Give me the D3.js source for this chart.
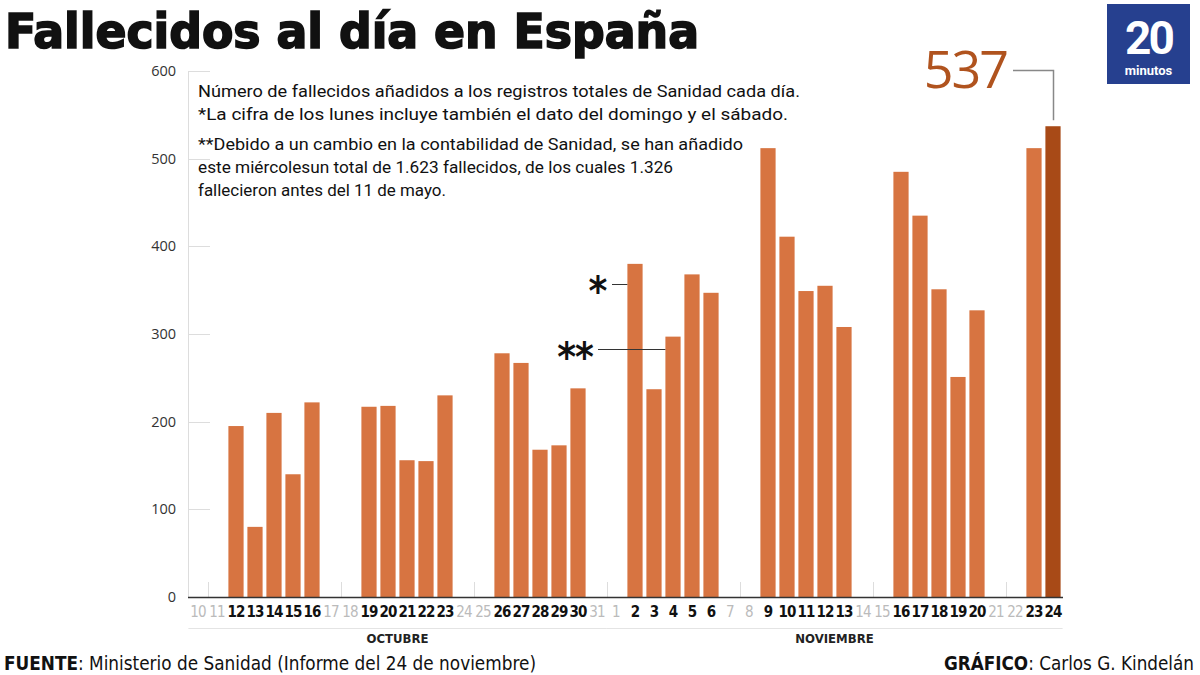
<!doctype html>
<html lang="es">
<head>
<meta charset="utf-8">
<title>Fallecidos al día en España</title>
<script src="https://cdn.jsdelivr.net/npm/d3@7"></script>
<style>
  body { margin: 0; background: #fff; }
  svg { display: block; }
</style>
</head>
<body>
<svg id="chart" width="1200" height="675"></svg>
<script>
    // days shown, Oct 10 to Nov 24
    const days = ["10","11","12","13","14","15","16","17","18","19","20","21","22","23","24","25","26","27","28","29","30","31",
        "1","2","3","4","5","6","7","8","9","10","11","12","13","14","15","16","17","18","19","20","21","22","23","24"];
    const months = ["OCTUBRE", "NOVIEMBRE"];
    const monthOf = days.map((d, i) => i < 22 ? 0 : 1);
    // 0 on weekends (no report)
    const deaths = [0,0,195,80,210,140,222,0,0,217,218,156,155,230,0,0,278,267,168,173,238,0,
        0,380,237,297,368,347,0,0,512,411,349,355,308,0,0,485,435,351,251,327,0,0,512,537];
    const weekend = [1,1,0,0,0,0,0,1,1,0,0,0,0,0,1,1,0,0,0,0,0,1,
        1,0,0,0,0,0,1,1,0,0,0,0,0,1,1,0,0,0,0,0,1,1,0,0];
    const yTicks = [0,100,200,300,400,500,600];

    const svg = d3.select("#chart");
    const condensed = "'DejaVu Sans Condensed', 'DejaVu Sans', sans-serif";

    const x = d3.scaleBand()
        .domain(d3.range(days.length))
        .range([188.5, 1062.5])
        .paddingInner(0.2)
        .paddingOuter(0.1);

    const y = d3.scaleLinear()
        .domain([0, 600])
        .range([597, 71]);

    // title
    svg.append("text")
        .attr("x", 5).attr("y", 48)
        .attr("textLength", 694)
        .attr("lengthAdjust", "spacingAndGlyphs")
        .style("font-family", condensed)
        .style("font-weight", "bold")
        .style("font-size", "48px")
        .style("fill", "#111")
        .style("stroke", "#111")
        .style("stroke-width", 1.6)
        .text("Fallecidos al día en España");

    // logo
    const logo = svg.append("g").attr("transform", "translate(1107,4)");
    logo.append("rect").attr("width", 83).attr("height", 80).style("fill", "#26408f");
    logo.append("text").attr("x", 41.5).attr("y", 50)
        .style("text-anchor", "middle")
        .style("font-family", "Roboto, sans-serif").style("font-weight", "bold")
        .style("font-size", "46px").style("letter-spacing", "-3px")
        .style("fill", "#fff").text("20");
    logo.append("text").attr("x", 41.5).attr("y", 71)
        .style("text-anchor", "middle")
        .style("font-family", "Roboto, sans-serif").style("font-weight", "bold")
        .style("font-size", "13px")
        .style("fill", "#fff").text("minutos");

    // y axis line + short grid ticks
    svg.append("line")
        .attr("x1", 188.5).attr("x2", 188.5)
        .attr("y1", y(600)).attr("y2", y(0))
        .style("stroke", "#ddd");
    const yg = svg.append("g");
    yg.selectAll("line").data(yTicks).enter().append("line")
        .attr("x1", 188).attr("x2", 210)
        .attr("y1", d => Math.round(y(d)) + 0.5).attr("y2", d => Math.round(y(d)) + 0.5)
        .style("stroke", "#ddd");
    yg.selectAll("text").data(yTicks).enter().append("text")
        .attr("x", 176).attr("y", d => y(d) + 5)
        .style("text-anchor", "end")
        .style("font-family", "'Open Sans', sans-serif")
        .style("font-size", "14.5px")
        .style("fill", "#333")
        .text(d => d);

    // weekly faint ticks
    svg.append("g").selectAll("line")
        .data(d3.range(days.length).filter(i => (i % 7) === 1))
        .enter().append("line")
        .attr("x1", i => Math.round(x(i) - x.step() * 0.1) + 0.5)
        .attr("x2", i => Math.round(x(i) - x.step() * 0.1) + 0.5)
        .attr("y1", 582).attr("y2", 597)
        .style("stroke", "#ddd");

    // bars
    svg.append("g").selectAll("rect")
        .data(deaths)
        .enter().append("rect")
        .attr("x", (d, i) => x(i))
        .attr("width", x.bandwidth())
        .attr("y", d => y(d))
        .attr("height", d => y(0) - y(d))
        .style("fill", (d, i) => i === days.length - 1 ? "#a84a17" : "#d77441");

    // baseline
    svg.append("line")
        .attr("x1", 188).attr("x2", 1063)
        .attr("y1", 597.5).attr("y2", 597.5)
        .style("stroke", "#333").style("stroke-width", 1.5);

    // day labels
    svg.append("g").selectAll("text")
        .data(days)
        .enter().append("text")
        .attr("x", (d, i) => x(i) + x.bandwidth() / 2)
        .attr("y", 617)
        .style("text-anchor", "middle")
        .style("font-family", condensed)
        .style("font-weight", (d, i) => weekend[i] ? "normal" : "bold")
        .style("letter-spacing", "-0.8px")
        .style("font-size", "15px")
        .style("fill", (d, i) => weekend[i] ? "#bbb" : "#111")
        .text(d => d);

    // month separators and names
    months.forEach((m, k) => {
        const idx = d3.range(days.length).filter(i => monthOf[i] === k);
        const x0 = x(idx[0]) - 2, x1 = x(idx[idx.length - 1]) + x.bandwidth() + 2;
        svg.append("line")
            .attr("x1", x0).attr("x2", x1)
            .attr("y1", 628.5).attr("y2", 628.5)
            .style("stroke", "#e4e4e4");
        svg.append("text")
            .attr("x", (x0 + x1) / 2).attr("y", 643)
            .style("text-anchor", "middle")
            .style("font-family", condensed)
            .style("font-weight", "bold")
            .style("font-size", "13px")
            .style("fill", "#222")
            .text(m);
    });

    // notes
    const notes = [
        [97, 602, "Número de fallecidos añadidos a los registros totales de Sanidad cada día."],
        [120, 590, "*La cifra de los lunes incluye también el dato del domingo y el sábado."],
        [150, 545, "**Debido a un cambio en la contabilidad de Sanidad, se han añadido"],
        [173, 475, "este miércolesun total de 1.623 fallecidos, de los cuales 1.326"],
        [196, 248, "fallecieron antes del 11 de mayo."]
    ];
    svg.append("g").selectAll("text")
        .data(notes)
        .enter().append("text")
        .attr("x", 198).attr("y", d => d[0])
        .attr("textLength", d => d[1])
        .attr("lengthAdjust", "spacingAndGlyphs")
        .style("font-family", "Roboto, sans-serif")
        .style("font-size", "16.5px")
        .style("fill", "#111")
        .text(d => d[2]);

    // asterisk markers
    const iNov2 = 23, iNov4 = 25, iLast = days.length - 1;
    svg.append("text")
        .attr("x", 598).attr("y", 305)
        .style("text-anchor", "middle")
        .style("font-family", condensed)
        .style("font-size", "40px")
        .style("font-weight", "bold")
        .style("fill", "#111")
        .text("*");
    svg.append("line")
        .attr("x1", 612).attr("x2", x(iNov2))
        .attr("y1", 284.5).attr("y2", 284.5)
        .style("stroke", "#333");
    svg.append("text")
        .attr("x", 575).attr("y", 371)
        .style("text-anchor", "middle")
        .style("font-family", condensed)
        .style("font-size", "40px")
        .style("font-weight", "bold")
        .style("letter-spacing", "-1px")
        .style("fill", "#111")
        .text("**");
    svg.append("line")
        .attr("x1", 598).attr("x2", x(iNov4))
        .attr("y1", 349.5).attr("y2", 349.5)
        .style("stroke", "#333");

    // last value callout
    svg.append("text")
        .attr("x", 1007).attr("y", 88)
        .style("text-anchor", "end")
        .style("font-family", "'Open Sans', sans-serif")
        .style("font-size", "52px")
        .style("letter-spacing", "-2px")
        .style("fill", "#b0531e")
        .text(deaths[iLast]);
    const cx = Math.round(x(iLast) + x.bandwidth() / 2) + 0.5;
    svg.append("path")
        .attr("d", "M1013,70.5H" + cx + "V" + (y(deaths[iLast]) - 6))
        .style("fill", "none")
        .style("stroke", "#888")
        .style("stroke-width", 1.5);

    // footer
    const foot = svg.append("text")
        .attr("x", 4).attr("y", 670)
        .attr("textLength", 532)
        .attr("lengthAdjust", "spacingAndGlyphs")
        .style("font-family", condensed)
        .style("font-size", "19px")
        .style("fill", "#111");
    foot.append("tspan").style("font-weight", "bold").text("FUENTE");
    foot.append("tspan").text(": Ministerio de Sanidad (Informe del 24 de noviembre)");
    const foot2 = svg.append("text")
        .attr("x", 1194).attr("y", 670)
        .attr("textLength", 250)
        .attr("lengthAdjust", "spacingAndGlyphs")
        .style("text-anchor", "end")
        .style("font-family", condensed)
        .style("font-size", "19px")
        .style("fill", "#111");
    foot2.append("tspan").style("font-weight", "bold").text("GRÁFICO");
    foot2.append("tspan").text(": Carlos G. Kindelán");
</script>
</body>
</html>
